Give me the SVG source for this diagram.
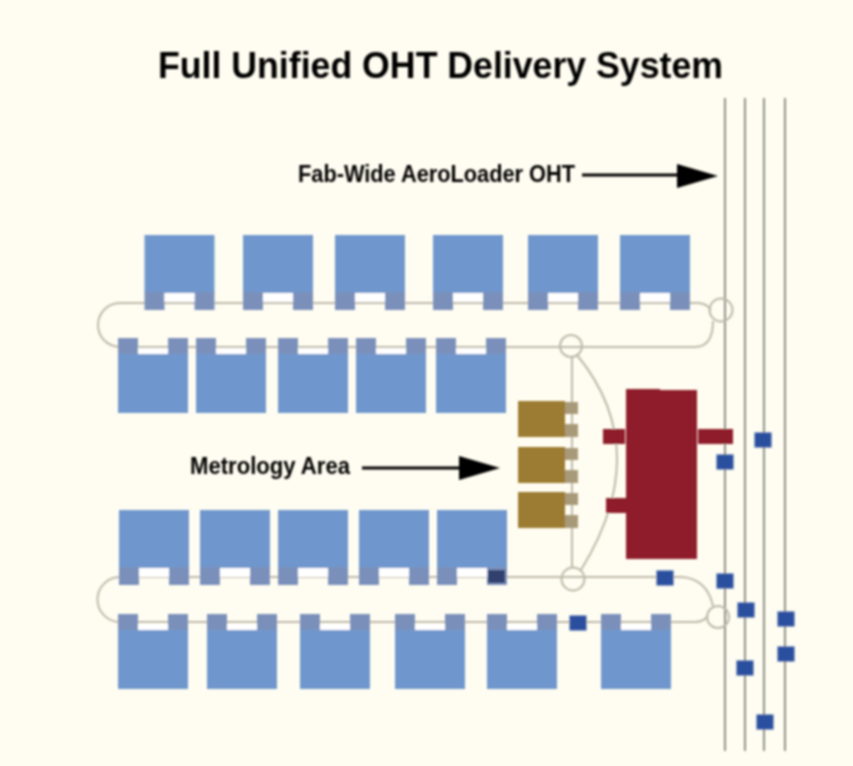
<svg xmlns="http://www.w3.org/2000/svg" width="853" height="766" viewBox="0 0 853 766">
<style>
.rail{fill:none;stroke:#bdb9aa;stroke-width:2}
.oht{fill:none;stroke:#8d9187;stroke-width:2}
.tool{fill:#7097cd}
.foot{fill:#7a90bb}
.gap{fill:#ffffff}
.met{fill:#9c7b33}
.metf{fill:#a89a78}
.red{fill:#8e1b2c}
.car{fill:#2a4f9f}
.ptr{stroke:#000;stroke-width:3;fill:none}
.head{fill:#000}
text{font-family:"Liberation Sans",Arial,sans-serif;font-weight:bold;fill:#000}
</style>
<defs>
<filter id="soft" x="-5%" y="-5%" width="110%" height="110%"><feGaussianBlur stdDeviation="0.8"/></filter>
<g id="toolUp"><rect class="tool" x="0" y="0" width="70" height="58"/><rect class="foot" x="0" y="57" width="20" height="18"/><rect class="foot" x="50" y="57" width="20" height="18"/><rect class="gap" x="20" y="58" width="30" height="9"/></g>
<g id="toolDown"><rect class="foot" x="0" y="0" width="20" height="17"/><rect class="foot" x="50" y="0" width="20" height="17"/><rect class="gap" x="20" y="10" width="30" height="6"/><rect class="tool" x="0" y="16" width="70" height="59"/></g>
<g id="metTool"><rect class="met" x="0" y="0" width="47" height="36"/><rect class="metf" x="47" y="1" width="13" height="12"/><rect class="metf" x="47" y="23" width="13" height="13"/></g>
<rect id="carrier" class="car" x="-8.500" y="-7.500" width="17" height="15"/>
</defs>
<rect width="853" height="766" fill="#fffdf1"/>
<g filter="url(#soft)">
<g id="connectors">
<path class="oht" d="M725 98V751M745 98V751M764 98V751M785 98V751"/>
<path class="rail" d="M120 303H698Q706 303 711 310M120 303A22 22 0 0 0 120 347H695Q713 347 713 321"/>
<path class="rail" d="M120 577H682Q707 579 713 606M120 577A22.500 22.500 0 0 0 120 622H695Q703 622 708 616"/>
<path class="rail" d="M572 357V568M577 355Q655 450 581 570"/>
<circle class="rail" cx="721" cy="310" r="11.500"/>
<circle class="rail" cx="571" cy="346" r="11"/>
<circle class="rail" cx="573" cy="579" r="11.500"/>
<circle class="rail" cx="718" cy="617" r="11"/>
<path class="ptr" d="M582 175H682"/><path class="head" d="M718 176L677 164V188Z"/>
<path class="ptr" d="M362 468H462"/><path class="head" d="M500 468L459 456V480Z"/>
</g>
<g id="bay-top">
<use href="#toolUp" x="144.500" y="235"/><use href="#toolUp" x="243" y="235"/><use href="#toolUp" x="335" y="235"/><use href="#toolUp" x="433" y="235"/><use href="#toolUp" x="528" y="235"/><use href="#toolUp" x="620" y="235"/>
</g>
<g id="bay-upper">
<use href="#toolDown" x="118" y="338"/><use href="#toolDown" x="196" y="338"/><use href="#toolDown" x="278" y="338"/><use href="#toolDown" x="356" y="338"/><use href="#toolDown" x="436" y="338"/>
</g>
<g id="bay-lower">
<use href="#toolUp" x="119" y="510"/><use href="#toolUp" x="200" y="510"/><use href="#toolUp" x="278" y="510"/><use href="#toolUp" x="359" y="510"/><use href="#toolUp" x="437" y="510"/>
<rect x="488" y="570" width="17" height="13" fill="#33406e"/>
</g>
<g id="bay-bottom">
<use href="#toolDown" x="118" y="614"/><use href="#toolDown" x="207" y="614"/><use href="#toolDown" x="300" y="614"/><use href="#toolDown" x="395" y="614"/><use href="#toolDown" x="487" y="614"/><use href="#toolDown" x="601" y="614"/>
</g>
<g id="metrology">
<use href="#metTool" x="518" y="401"/><use href="#metTool" x="518" y="447"/><use href="#metTool" x="518" y="492"/>
</g>
<g id="stocker">
<rect class="red" x="603" y="429" width="22" height="15"/>
<rect class="red" x="606" y="498" width="21" height="15"/>
<rect class="red" x="698" y="429" width="35" height="15"/>
<path class="red" d="M626 389H660V390H697V559H626Z"/>
</g>
<g id="carriers">
<use href="#carrier" x="763" y="440"/><use href="#carrier" x="725" y="462"/><use href="#carrier" x="665" y="578"/><use href="#carrier" x="725" y="581"/><use href="#carrier" x="746" y="610"/><use href="#carrier" x="786" y="619"/><use href="#carrier" x="786" y="654"/><use href="#carrier" x="745" y="668"/><use href="#carrier" x="765" y="722"/><use href="#carrier" x="578" y="623"/>
</g>
<g id="labels">
<text x="158" y="78" font-size="36" textLength="565" lengthAdjust="spacingAndGlyphs">Full Unified OHT Delivery System</text>
<text x="298" y="182" font-size="24" textLength="277" lengthAdjust="spacingAndGlyphs">Fab-Wide AeroLoader OHT</text>
<text x="190" y="474" font-size="24" textLength="160" lengthAdjust="spacingAndGlyphs">Metrology Area</text>
</g>
</g>
</svg>
